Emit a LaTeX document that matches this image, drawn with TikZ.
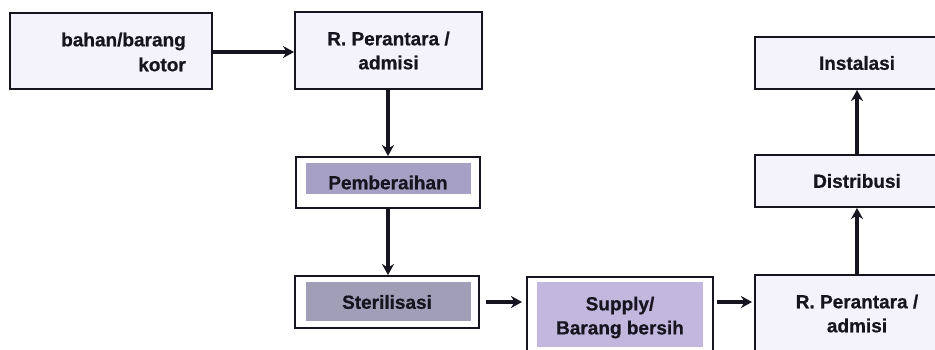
\documentclass[tikz,border=0pt]{standalone}
\usepackage{fontspec}
\setmainfont{Liberation Sans}[BoldFeatures={FakeBold=0.6}]
\usetikzlibrary{arrows.meta,backgrounds}
\definecolor{ink}{HTML}{16151F}
\definecolor{paleblue}{HTML}{F4F3FC}
\definecolor{graybg}{HTML}{A6A1C4}
\definecolor{graybgb}{HTML}{A19FB8}
\definecolor{lavbg}{HTML}{C2B8DD}
\tikzset{
  box/.style={draw=ink, line width=2pt, rectangle, inner sep=0pt,
    font=\fontsize{19}{24}\selectfont\bfseries, text=ink, align=center},
  palebox/.style={box, fill=paleblue},
  flow/.style={draw=ink, line width=3.2pt, -{Stealth[length=11pt,width=12pt]}}
}
\begin{document}
\begin{tikzpicture}[x=1pt,y=-1pt]
\useasboundingbox (0,0) rectangle (935,349);
\clip (0,0) rectangle (935,349);
\node[palebox, minimum width=202pt, minimum height=76pt] (b1) at (111,51) {};
\node[font=\fontsize{19}{25}\selectfont\bfseries, text=ink, align=right, anchor=east, inner sep=0pt] (t1) at (186,52) {bahan/barang\\kotor};
\node[palebox, minimum width=187pt, minimum height=77pt] (b2) at (388.5,50.5) {R. Perantara /\\admisi};
\node[box, minimum width=184pt, minimum height=51pt] (pemb) at (388,182.5) {Pemberaihan};
\node[box, minimum width=184pt, minimum height=52pt] (steril) at (387,302) {Sterilisasi};
\node[box, minimum width=186pt, minimum height=77pt, text depth=0pt] (supply) at (620,315.5) {Supply/\\Barang bersih};
\node[palebox, minimum width=204pt, minimum height=77pt] (rp2) at (857,313.5) {R. Perantara /\\admisi};
\node[palebox, minimum width=204pt, minimum height=52pt] (distr) at (857,181) {Distribusi};
\node[palebox, minimum width=204pt, minimum height=52pt] (inst) at (857,63) {Instalasi};
\begin{scope}[on background layer]
  \fill[graybg] ([xshift=11pt,yshift=-7pt]pemb.north west) rectangle ([xshift=-10pt,yshift=15pt]pemb.south east);
  \fill[graybgb] ([xshift=12pt,yshift=-7pt]steril.north west) rectangle ([xshift=-9pt,yshift=8pt]steril.south east);
  \fill[lavbg] ([xshift=11pt,yshift=-6pt]supply.north west) rectangle ([xshift=-11pt,yshift=8pt]supply.south east);
\end{scope}
\draw[flow] (b1.east |- 0,52) -- (b2.west |- 0,52);
\draw[flow] (388,0 |- b2.south) -- (388,0 |- pemb.north);
\draw[flow] (388,0 |- pemb.south) -- (388,0 |- steril.north);
\draw[flow] ([xshift=6pt]steril.east |- 0,302) -- ([xshift=-4pt]supply.west |- 0,302);
\draw[flow] ([xshift=3pt]supply.east |- 0,302) -- ([xshift=-2pt]rp2.west |- 0,302);
\draw[flow] (rp2.north) -- (distr.south);
\draw[flow] (distr.north) -- (inst.south);
\end{tikzpicture}
\end{document}
